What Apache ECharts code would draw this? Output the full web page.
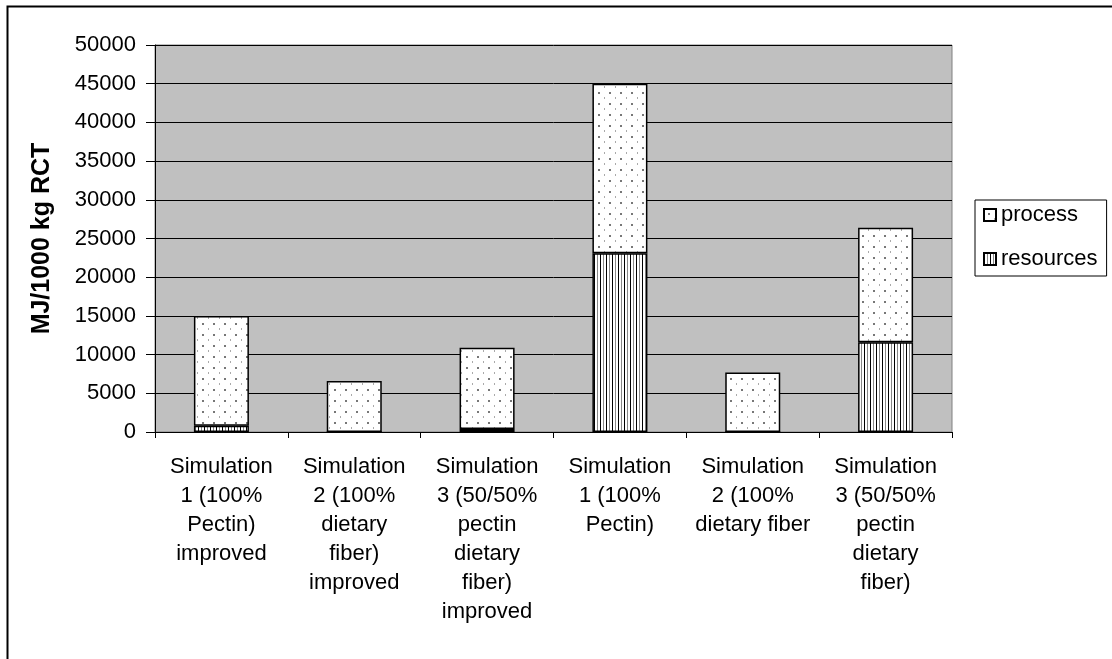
<!DOCTYPE html>
<html>
<head>
<meta charset="utf-8">
<script src="https://cdn.jsdelivr.net/npm/echarts@6/dist/echarts.min.js"></script>
<style>
  html, body { margin: 0; padding: 0; background: #fff; }
  #main { width: 1112px; height: 659px; }
</style>
</head>
<body>
<div id="main"></div>
<script>
var categories = [
  'Simulation\n1 (100%\nPectin)\nimproved',
  'Simulation\n2 (100%\ndietary\nfiber)\nimproved',
  'Simulation\n3 (50/50%\npectin\ndietary\nfiber)\nimproved',
  'Simulation\n1 (100%\nPectin)',
  'Simulation\n2 (100%\ndietary fiber',
  'Simulation\n3 (50/50%\npectin\ndietary\nfiber)'
];
var resources = [800, 0, 400, 23100, 0, 11600];
var process = [14200, 6600, 10500, 21900, 7700, 14800];

// dotted fill for "process"
function dotPattern() {
  var c = document.createElement('canvas');
  c.width = 22; c.height = 22;
  var ctx = c.getContext('2d');
  ctx.fillStyle = '#fff';
  ctx.fillRect(0, 0, 22, 22);
  ctx.fillStyle = '#777';
  ctx.fillRect(4, 4, 2, 2);
  ctx.fillRect(15, 4, 2, 2);
  ctx.fillRect(4, 15, 2, 2);
  ctx.fillRect(15, 15, 2, 2);
  ctx.fillStyle = '#aaa';
  ctx.fillRect(10, 9, 1, 2);
  ctx.fillRect(21, 9, 1, 2);
  ctx.fillRect(10, 20, 1, 2);
  ctx.fillRect(21, 20, 1, 2);
  return c;
}

// vertical stripes for "resources"
function stripePattern() {
  var c = document.createElement('canvas');
  c.width = 6; c.height = 6;
  var ctx = c.getContext('2d');
  ctx.fillStyle = '#fff';
  ctx.fillRect(0, 0, 6, 6);
  ctx.fillStyle = '#000';
  ctx.fillRect(0, 0, 1, 6);
  ctx.fillStyle = '#888';
  ctx.fillRect(3, 0, 1, 6);
  return c;
}

var font = 'Liberation Sans, Arial, sans-serif';

var option = {
  backgroundColor: '#fff',
  animation: false,
  textStyle: { fontFamily: font },
  graphic: [{
    type: 'rect',
    shape: { x: 7.5, y: 6.5, width: 1200, height: 700 },
    style: { fill: 'none', stroke: '#000', lineWidth: 2 },
    silent: true
  }],
  legend: {
    orient: 'vertical',
    left: 975,
    top: 200,
    data: ['process', 'resources'],
    icon: 'rect',
    itemWidth: 12,
    itemHeight: 12,
    itemGap: 22,
    padding: [4, 9, 6, 8],
    borderColor: '#000',
    borderWidth: 1,
    textStyle: { fontSize: 22, color: '#000', fontFamily: font }
  },
  grid: {
    left: 155,
    right: 160,
    top: 45,
    bottom: 227,
    show: true,
    backgroundColor: '#C0C0C0',
    borderColor: '#808080',
    borderWidth: 1
  },
  xAxis: {
    type: 'category',
    data: categories,
    axisLine: { lineStyle: { color: '#000', width: 1 } },
    axisTick: { show: true, length: 6, lineStyle: { color: '#000' } },
    axisLabel: {
      interval: 0,
      margin: 20,
      fontSize: 22,
      lineHeight: 29,
      color: '#000',
      fontFamily: font
    }
  },
  yAxis: {
    type: 'value',
    min: 0,
    max: 50000,
    interval: 5000,
    name: 'MJ/1000 kg RCT',
    nameLocation: 'middle',
    nameGap: 100,
    nameTextStyle: { fontSize: 25, fontWeight: 'bold', color: '#000', fontFamily: font },
    axisLine: { show: true, lineStyle: { color: '#000', width: 1 } },
    axisTick: { show: true, length: 9, lineStyle: { color: '#000' } },
    axisLabel: {
      fontSize: 22,
      color: '#000',
      margin: 19,
      fontFamily: font,
      formatter: function (v) { return String(v); }
    },
    splitLine: { lineStyle: { color: '#000', width: 1 } }
  },
  series: [{
    name: 'resources',
    type: 'bar',
    stack: 'total',
    barWidth: 55,
    data: resources,
    itemStyle: {
      color: { image: stripePattern(), repeat: 'repeat' },
      borderColor: '#000',
      borderWidth: 1.5
    }
  }, {
    name: 'process',
    type: 'bar',
    stack: 'total',
    barWidth: 55,
    data: process,
    itemStyle: {
      color: { image: dotPattern(), repeat: 'repeat' },
      borderColor: '#000',
      borderWidth: 1.5
    }
  }]
};

var chart = echarts.init(document.getElementById('main'));
chart.setOption(option);
</script>
</body>
</html>
